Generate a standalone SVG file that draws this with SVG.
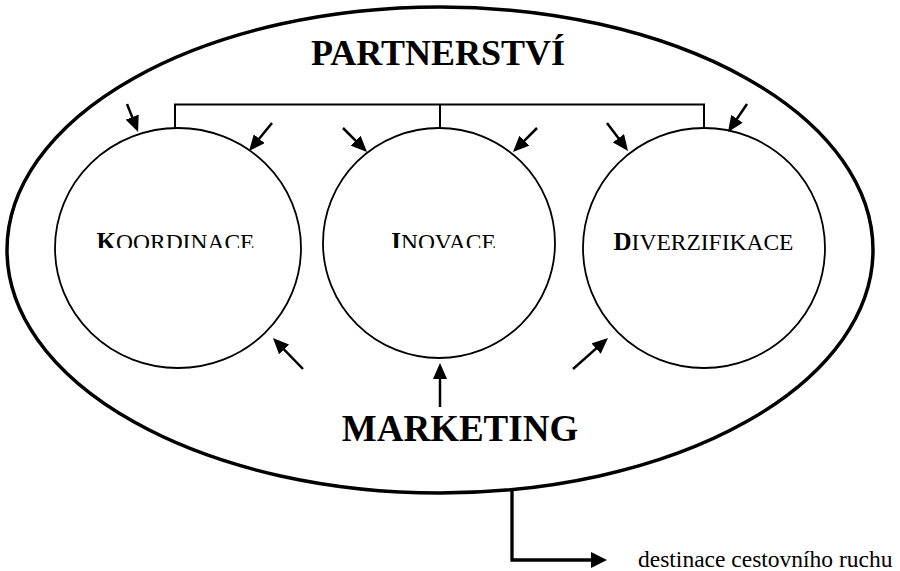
<svg xmlns="http://www.w3.org/2000/svg" width="900" height="571" viewBox="0 0 900 571">
<style>
text{font-family:"Liberation Serif","Times New Roman",serif;fill:#000}
.title{font-size:36px;font-weight:bold;text-anchor:middle}
.lbl{font-size:23.5px;text-anchor:middle}
.init{font-size:25px;font-weight:bold}
.circ{fill:none;stroke:#000;stroke-width:1.8}
.arr{fill:none;stroke:#000;stroke-width:2.5;marker-end:url(#ah)}
.br{fill:none;stroke:#000;stroke-width:2}
</style>
<defs>
<marker id="ah" markerUnits="userSpaceOnUse" markerWidth="16" markerHeight="14" refX="3" refY="7" orient="auto"><path d="M0,0 L16,7 L0,14 Z" fill="#000"/></marker>
<marker id="ah2" markerUnits="userSpaceOnUse" markerWidth="16" markerHeight="16" refX="3" refY="8" orient="auto"><path d="M0,0 L16,8 L0,16 Z" fill="#000"/></marker>
<clipPath id="cut"><rect x="0" y="0" width="900" height="248"/></clipPath>
</defs>
<g id="partnerstvi">
<ellipse cx="440" cy="250" rx="433" ry="243" fill="none" stroke="#000" stroke-width="3.5"/>
<text class="title" x="438" y="65">PARTNERSTVÍ</text>
</g>
<g id="koordinace">
<ellipse class="circ" cx="178" cy="248" rx="123" ry="120"/>
<text class="lbl" x="175.5" y="249.5" clip-path="url(#cut)"><tspan class="init">K</tspan>OORDINACE</text>
</g>
<g id="inovace">
<ellipse class="circ" cx="439" cy="243" rx="116" ry="115"/>
<text class="lbl" x="443.5" y="249.5" clip-path="url(#cut)"><tspan class="init">I</tspan>NOVACE</text>
</g>
<g id="diverzifikace">
<ellipse class="circ" cx="704" cy="248" rx="121" ry="120"/>
<text class="lbl" x="703.5" y="250"><tspan class="init">D</tspan>IVERZIFIKACE</text>
</g>
<g id="marketing">
<text class="title" x="460" y="441" style="font-size:37px">MARKETING</text>
</g>
<g id="destinace">
<text x="638" y="567" style="font-size:23.5px">destinace cestovního ruchu</text>
</g>
<g id="connectors">
<path class="br" d="M175,128 V104.5 H704 V128 M440,104.5 V128"/>
<line class="arr" x1="127" y1="104" x2="133.3" y2="119.9"/>
<line class="arr" x1="272" y1="123" x2="257.3" y2="141"/>
<line class="arr" x1="343" y1="128" x2="357.8" y2="142.8"/>
<line class="arr" x1="537" y1="128" x2="522.2" y2="142.8"/>
<line class="arr" x1="607" y1="123" x2="620.2" y2="140.6"/>
<line class="arr" x1="747" y1="104" x2="735.3" y2="121.2"/>
<line class="arr" x1="303" y1="369" x2="282" y2="347.3"/>
<line class="arr" x1="440" y1="407" x2="440" y2="376"/>
<line class="arr" x1="573" y1="369" x2="598.3" y2="346.6"/>
<path d="M512,490 V560 H594" fill="none" stroke="#000" stroke-width="3.3" marker-end="url(#ah2)"/>
</g>
</svg>
